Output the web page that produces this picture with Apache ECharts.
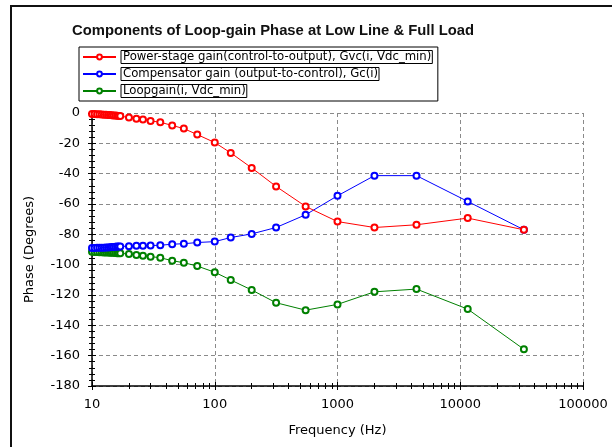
<!DOCTYPE html>
<html>
<head>
<meta charset="utf-8">
<script src="https://cdn.jsdelivr.net/npm/echarts@6/dist/echarts.min.js"></script>
<style>
  html, body { margin: 0; padding: 0; background: #fff; }
  #chart { width: 612px; height: 447px; }
</style>
</head>
<body>
<div id="chart"></div>
<script>
// Frequency points (Hz) shared by all three traces
const freqHz = [10, 10.5, 11, 11.5, 12, 12.5, 13, 13.5, 14, 14.5, 15, 15.5, 16, 16.5, 17,
  20, 23, 26, 30, 36, 45, 56, 72, 100, 135, 200, 316, 550, 1000, 2000, 4400, 11500, 33000];

// Phase in degrees
const phaseGvc = [-0.6, -0.7, -0.8, -0.9, -1.0, -1.1, -1.2, -1.3, -1.4, -1.5, -1.6, -1.7, -1.8, -1.9, -2.0,
  -3.0, -3.8, -4.3, -5.2, -6.1, -8.2, -10.3, -14.2, -19.5, -26.3, -36.2, -48.4, -61.6, -71.6, -75.5, -73.7, -69.3, -77.0];
const phaseGc = [-89.0, -89.0, -88.9, -88.9, -88.8, -88.8, -88.7, -88.6, -88.5, -88.4, -88.3, -88.2, -88.1, -88.0, -88.0,
  -87.8, -87.6, -87.5, -87.4, -87.2, -86.5, -86.2, -85.4, -84.8, -82.1, -79.7, -75.5, -67.1, -54.6, -41.3, -41.3, -58.3, -77.0];
const phaseLoop = [-91.5, -91.6, -91.7, -91.8, -91.8, -91.9, -92.0, -92.0, -92.1, -92.2, -92.2, -92.3, -92.4, -92.4, -92.5,
  -93.0, -93.6, -94.2, -94.7, -95.4, -97.4, -98.7, -100.9, -105.0, -110.1, -116.7, -125.1, -130.0, -126.2, -117.9, -116.1, -129.3, -155.8];

const seriesNames = [
  'Power-stage gain(control-to-output), Gvc(i, Vdc_min)',
  'Compensator gain (output-to-control), Gc(i)',
  'Loopgain(i, Vdc_min)'
];
const seriesColors = ['#ff0000', '#0000ff', '#008000'];

const chartTitle = 'Components of Loop-gain Phase at Low Line & Full Load';
const xName = 'Frequency (Hz)';
const yName = 'Phase (Degrees)';

const FONT = 'DejaVu Sans';

function pairs(vals) {
  return freqHz.map((f, i) => [f, vals[i]]);
}

function lineSeries(name, vals, color, z) {
  return {
    name: name,
    type: 'line',
    xAxisIndex: 0,
    yAxisIndex: 0,
    data: pairs(vals),
    symbol: 'emptyCircle',
    symbolSize: 6,
    showAllSymbol: true,
    z: z,
    lineStyle: { color: color, width: 1 },
    itemStyle: { color: color, borderColor: color, borderWidth: 1 }
  };
}

const gridBox = { left: 92, right: 29, top: 113, bottom: 61 };

const xCommon = {
  type: 'log',
  logBase: 10,
  min: 10,
  max: 100000,
  gridIndex: 0,
  position: 'bottom'
};
const yCommon = {
  type: 'value',
  min: -180,
  max: 0,
  interval: 20,
  gridIndex: 0,
  position: 'left'
};

const chart = echarts.init(document.getElementById('chart'), null, { renderer: 'canvas' });

chart.setOption({
  animation: false,
  backgroundColor: '#ffffff',
  graphic: [{
    type: 'rect',
    shape: { x: 11, y: 6, width: 700, height: 600 },
    style: { fill: 'none', stroke: '#111', lineWidth: 2 },
    silent: true,
    z: -1
  }],
  title: {
    text: chartTitle,
    left: 268,
    textAlign: 'center',
    top: 18,
    textStyle: { fontFamily: 'Liberation Sans', fontWeight: 'bold', fontSize: 14.8, color: '#111' }
  },
  legend: {
    orient: 'vertical',
    left: 79,
    top: 47,
    padding: [3, 5, 3, 3],
    itemGap: 3,
    itemWidth: 33,
    itemHeight: 6,
    borderColor: '#000',
    borderWidth: 1,
    backgroundColor: '#fff',
    data: seriesNames,
    itemStyle: { borderWidth: 1 },
    textStyle: {
      fontFamily: FONT,
      fontSize: 11.7,
      color: '#000',
      borderColor: '#000',
      borderWidth: 1,
      padding: [1, 1, 0, 2]
    }
  },
  grid: gridBox,
  xAxis: [
    Object.assign({}, xCommon, {
      name: xName,
      nameLocation: 'middle',
      nameGap: 38,
      nameTextStyle: { fontFamily: FONT, fontSize: 13, color: '#000' },
      axisLine: { show: true, onZero: false, lineStyle: { color: '#000', width: 1.5 } },
      axisTick: { show: true, inside: false, length: 4, lineStyle: { color: '#000' } },
      minorTick: { show: true, splitNumber: 9, length: 3, lineStyle: { color: '#000' } },
      axisLabel: { fontFamily: FONT, fontSize: 13, color: '#000', margin: 12,
        formatter: v => String(Math.round(v)) },
      splitLine: { show: true, lineStyle: { color: '#8a8a8a', type: [4, 3], width: 1 } },
      minorSplitLine: { show: false }
    }),
    Object.assign({}, xCommon, {
      axisLine: { show: false, onZero: false },
      axisTick: { show: true, inside: true, length: 4, lineStyle: { color: '#000' } },
      minorTick: { show: true, splitNumber: 9, length: 3, lineStyle: { color: '#000' } },
      axisLabel: { show: false },
      splitLine: { show: false }
    })
  ],
  yAxis: [
    Object.assign({}, yCommon, {
      name: yName,
      nameLocation: 'middle',
      nameGap: 56,
      nameTextStyle: { fontFamily: FONT, fontSize: 13, color: '#000' },
      axisLine: { show: true, onZero: false, lineStyle: { color: '#000', width: 1.5 } },
      axisTick: { show: true, inside: false, length: 4, lineStyle: { color: '#000' } },
      minorTick: { show: true, splitNumber: 5, length: 3, lineStyle: { color: '#000' } },
      axisLabel: { fontFamily: FONT, fontSize: 13, color: '#000', margin: 12 },
      splitLine: { show: true, lineStyle: { color: '#8a8a8a', type: [4, 3], width: 1 } }
    }),
    Object.assign({}, yCommon, {
      axisLine: { show: false, onZero: false },
      axisTick: { show: true, inside: true, length: 4, lineStyle: { color: '#000' } },
      minorTick: { show: true, splitNumber: 5, length: 3, lineStyle: { color: '#000' } },
      axisLabel: { show: false },
      splitLine: { show: false }
    })
  ],
  series: [
    lineSeries(seriesNames[0], phaseGvc, seriesColors[0], 4),
    lineSeries(seriesNames[1], phaseGc, seriesColors[1], 3),
    lineSeries(seriesNames[2], phaseLoop, seriesColors[2], 2)
  ]
});
</script>
</body>
</html>
